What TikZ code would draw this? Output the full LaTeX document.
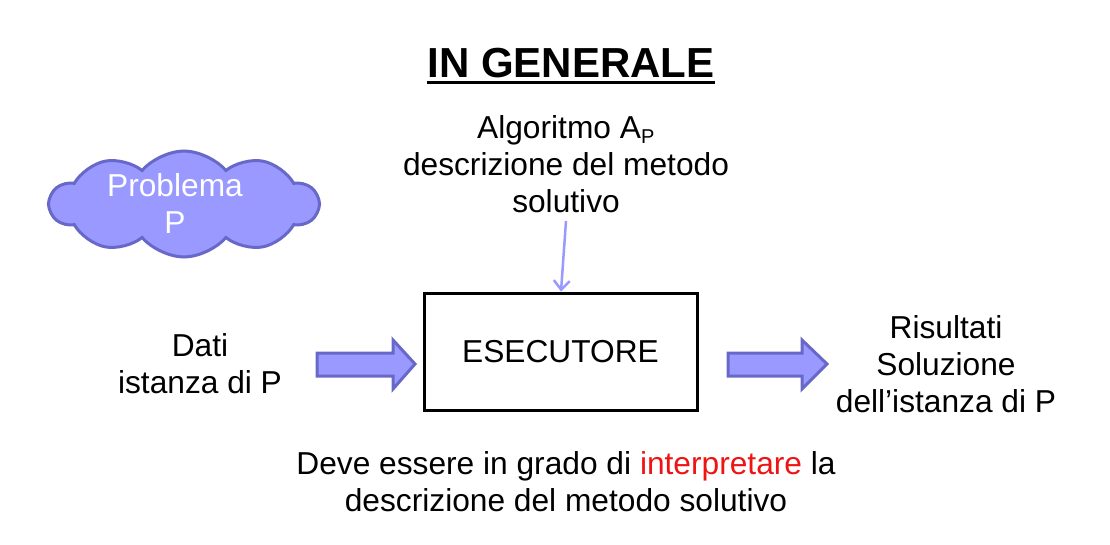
\documentclass[tikz,border=0pt]{standalone}
\usepackage{fontspec}
\setmainfont{Liberation Sans}
\usetikzlibrary{shapes.symbols,arrows.meta}
\definecolor{lav}{RGB}{153,153,255}
\definecolor{lavdark}{RGB}{104,104,200}
\definecolor{ired}{RGB}{238,20,20}
\tikzset{
  txt/.style={font=\fontsize{31.7}{37}\selectfont, align=center, inner sep=0pt},
  blockarrow/.style={fill=lav, draw=lavdark, line width=3pt, line join=miter},
  boxstyle/.style={draw=black, line width=3pt, minimum width=273pt, minimum height=117pt, inner sep=0pt},
}
\begin{document}
\begin{tikzpicture}[x=1pt,y=-1pt]
\useasboundingbox (0,0) rectangle (1110,545);
% title
\node[font=\fontsize{42}{48}\selectfont\bfseries, inner sep=0pt, anchor=base] (title) at (571,78) {IN GENERALE};
\draw[line width=3pt] (title.base west) ++(0,5) coordinate (ul1) -- (title.base east |- ul1);
% cloud
\node[cloud, cloud puffs=10, cloud puff arc=100, aspect=2.5, fill=lav, draw=lavdark, line width=3pt,
      minimum width=268pt, minimum height=106pt, inner sep=0pt] (cloud) at (184,204) {};
\node[txt, text=white] (prob) at (175,204) {Problema\\P};
% algorithm text
\node[txt] (alg) at (566,164) {Algoritmo A\textsubscript{\fontsize{20}{20}\selectfont P}\\descrizione del metodo\\solutivo};
% executor
\node[boxstyle] (exec) at (560.5,351.5) {};
\node[txt] (exectxt) at (exec.center) {ESECUTORE};
\coordinate (algbot) at (566,221);
\draw[lav, line width=2.5pt, -{Straight Barb[length=9pt,width=16pt]}] (algbot) -- (exec.north -| 561,0);
% left input
\node[txt] (dati) at (200,364) {Dati\\istanza di P};
\path[blockarrow] (317,353) -- (393,353) -- (393,340) -- (415,364) -- (393,389) -- (393,376) -- (317,376) -- cycle;
% right output
\path[blockarrow] (728,353) -- (802,353) -- (802,340) -- (827,364) -- (802,389) -- (802,376) -- (728,376) -- cycle;
\node[txt] (ris) at (946,364) {Risultati\\Soluzione\\dell’istanza di P};
% bottom text
\node[txt] (bottom) at (566,482) {Deve essere in grado di \textcolor{ired}{interpretare} la\\descrizione del metodo solutivo};
\end{tikzpicture}
\end{document}
